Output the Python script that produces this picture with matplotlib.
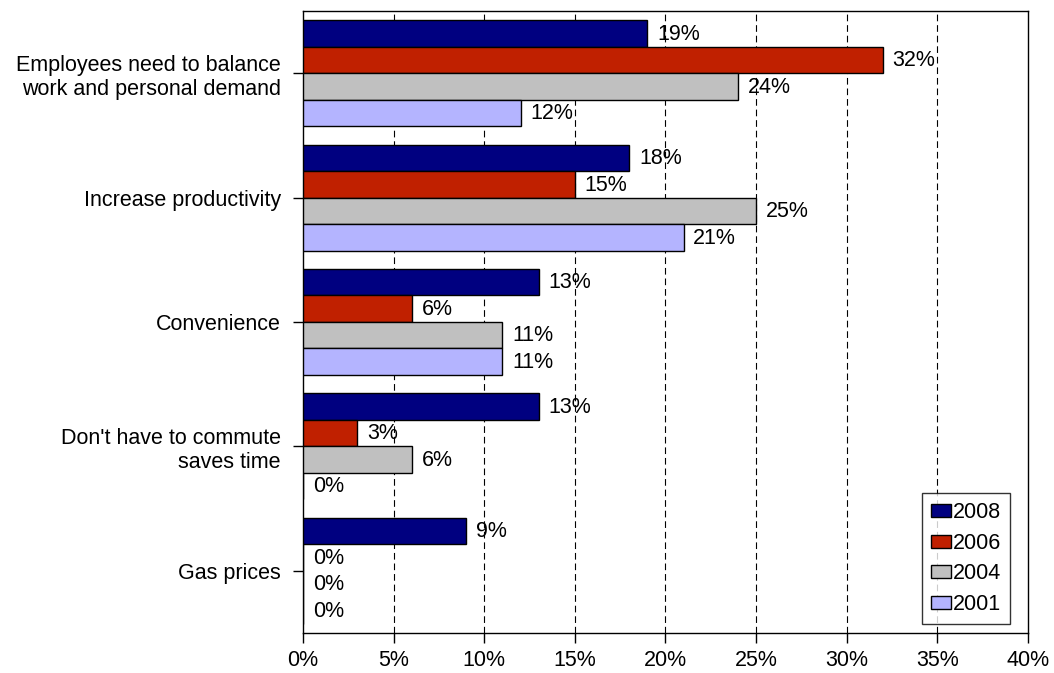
import matplotlib
matplotlib.use("Agg")
import matplotlib.pyplot as plt
import numpy as np
from matplotlib.patches import Patch

plt.rcParams['font.family'] = ['Liberation Sans', 'DejaVu Sans']

categories = [
    "Employees need to balance\nwork and personal demand",
    "Increase productivity",
    "Convenience",
    "Don't have to commute\nsaves time",
    "Gas prices",
]
years = ["2008", "2006", "2004", "2001"]
values_2008 = [19, 18, 13, 13, 9]
values_2006 = [32, 15, 6, 3, 0]
values_2004 = [24, 25, 11, 6, 0]
values_2001 = [12, 21, 11, 0, 0]
x_ticks = [0, 5, 10, 15, 20, 25, 30, 35, 40]

series = [values_2008, values_2006, values_2004, values_2001]
colors = ["#000080", "#C02000", "#C0C0C0", "#B4B4FF"]
FS = 15.5

fig = plt.figure(figsize=(10.54, 6.73), dpi=100)
ax = fig.add_axes([0.2875, 0.0594, 0.6878, 0.9243])

n = len(categories)
bar_h = 0.213
centers = np.arange(n)
for i, (vals, col, yr) in enumerate(zip(series, colors, years)):
    y = centers + (i - 1.5) * bar_h
    ax.barh(y, vals, height=bar_h, color=col, edgecolor="black",
            linewidth=1.0, label=yr, zorder=3)
    for yy, v in zip(y, vals):
        ax.annotate(f"{v}%", (v, yy), xytext=(7, -0.5), textcoords="offset points",
                    ha="left", va="center", fontsize=FS, zorder=4)

ax.set_xlim(0, 40)
ax.set_ylim(n - 0.5, -0.5)
ax.set_xticks(x_ticks)
ax.set_xticklabels([f"{t}%" for t in x_ticks], fontsize=FS)
ax.set_yticks(centers)
ax.set_yticklabels(categories, fontsize=FS, ha="right", multialignment="right")
ax.tick_params(axis="both", direction="out", length=7, width=1, color="black")
ax.tick_params(axis="y", pad=9)
ax.tick_params(axis="x", pad=5)

for t in x_ticks[1:-1]:
    ax.axvline(t, color="black", linewidth=0.8, linestyle=(0, (6, 3.5)), zorder=1)

for sp in ax.spines.values():
    sp.set_color("black")
    sp.set_linewidth(1.0)

handles = [Patch(facecolor=c, edgecolor="black", linewidth=1.0, label=y)
           for c, y in zip(colors, years)]
leg = ax.legend(handles=handles, loc="lower right", bbox_to_anchor=(0.9755, 0.015),
                fontsize=FS, frameon=True, fancybox=False, edgecolor="black",
                handlelength=0.95, handleheight=0.55, handletextpad=0.1,
                labelspacing=0.45, borderpad=0.4, borderaxespad=0)
leg.get_frame().set_linewidth(1.0)

fig.savefig("out.png", dpi=100, facecolor="white")
